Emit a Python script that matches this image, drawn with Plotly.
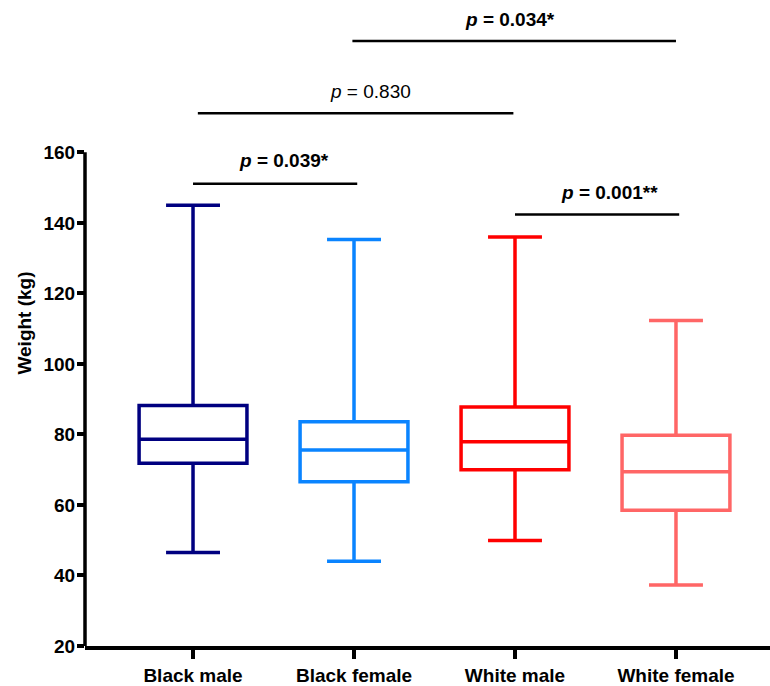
import plotly.graph_objects as go

groups = ["Black male", "Black female", "White male", "White female"]
colors = ["#000080", "#0A84FF", "#FF0000", "#FF6666"]
upper = [145, 135.3, 136, 112.3]
q3 = [88.2, 83.6, 87.8, 79.8]
median = [78.6, 75.6, 77.9, 69.4]
q1 = [71.8, 66.6, 70.0, 58.5]
lower = [46.5, 44.0, 49.9, 37.3]

tick_vals = [20, 40, 60, 80, 100, 120, 140, 160]

# significance brackets: start index, end index, height, label, label x, bold
br_x0 = [0.0, 0.03, 0.99, 2.0]
br_x1 = [1.02, 1.99, 3.0, 3.02]
br_y = [151.1, 171.1, 191.6, 142.4]
br_text = ["<b><i>p</i> = 0.039*</b>", "<i>p</i> = 0.830",
           "<b><i>p</i> = 0.034*</b>", "<b><i>p</i> = 0.001**</b>"]
br_text_x = [0.565, 1.105, 1.97, 2.59]
br_text_y = [157.6, 177.3, 197.8, 148.6]

FONT = "Liberation Sans, Arial, sans-serif"

fig = go.Figure()
for g, c, u, a, m, b, lo in zip(groups, colors, upper, q3, median, q1, lower):
    fig.add_trace(go.Box(
        x=[g], q1=[b], median=[m], q3=[a], lowerfence=[lo], upperfence=[u],
        name=g, line=dict(color=c, width=3.5), fillcolor="white", width=0.67,
        whiskerwidth=0.5, boxpoints=False, hoverinfo="skip", showlegend=False,
    ))

shapes = [dict(type="line", xref="paper", x0=0, x1=0, yref="y", y0=20, y1=160,
               line=dict(color="black", width=3.5))]
annotations = []
for x0, x1, y, t, tx, ty in zip(br_x0, br_x1, br_y, br_text, br_text_x, br_text_y):
    shapes.append(dict(type="line", xref="x", yref="y", x0=x0, x1=x1, y0=y, y1=y,
                       line=dict(color="black", width=2.5)))
    annotations.append(dict(x=tx, y=ty, xref="x", yref="y", text=t, showarrow=False,
                            xanchor="center", yanchor="middle",
                            font=dict(family=FONT, size=19, color="black")))

fig.update_layout(
    width=770, height=686,
    margin=dict(l=85, r=0, t=0, b=35),
    paper_bgcolor="white", plot_bgcolor="white",
    font=dict(family=FONT, size=19, color="black"),
    shapes=shapes, annotations=annotations,
    showlegend=False,
)
fig.update_xaxes(
    type="category", categoryorder="array", categoryarray=groups,
    range=[-0.671, 3.584], showline=True, linecolor="black", linewidth=3.5,
    ticks="outside", ticklen=9, tickwidth=3.5, tickcolor="black",
    showgrid=False, zeroline=False,
    tickfont=dict(family=FONT, size=19, color="black", weight="bold"),
)
fig.update_yaxes(
    range=[20, 203.2], tickvals=tick_vals, ticktext=[str(v) for v in tick_vals],
    showline=False, ticks="outside", ticklen=7, tickwidth=3.5, tickcolor="black",
    showgrid=False, zeroline=False, ticklabelstandoff=-2,
    tickfont=dict(family=FONT, size=19, color="black", weight="bold"),
    title=dict(text="<b>Weight (kg)</b>", standoff=6,
               font=dict(family=FONT, size=19, color="black")),
)

fig.write_html("out.html")
